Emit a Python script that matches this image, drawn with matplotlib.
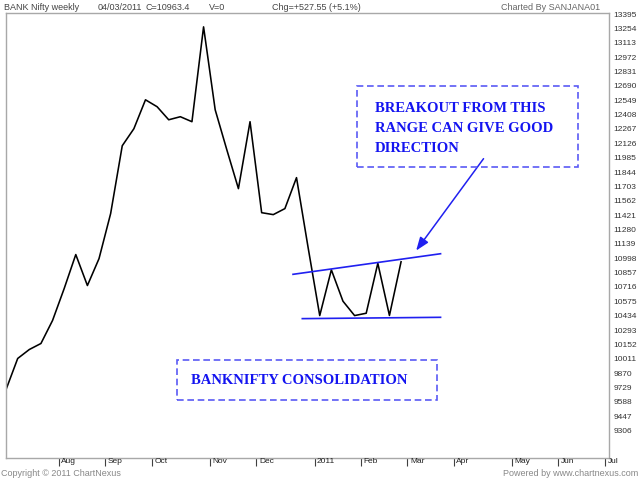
import matplotlib
matplotlib.use("Agg")
import matplotlib.pyplot as plt
import matplotlib.transforms as mtransforms
from matplotlib.patches import Rectangle
import pandas as pd
import numpy as np

# ---------------- data ----------------
start_date = "2010-07-09"
close = [9710, 10014, 10102, 10161, 10387, 10700, 11034, 10730, 10994, 11436,
         12102, 12269, 12553, 12485, 12357, 12387, 12338, 13269, 12455, 12063,
         11681, 12338, 11445, 11426, 11485, 11789, 11102, 10435, 10884, 10576,
         10435, 10458, 10948, 10436, 10963]
month_labels = ["Aug", "Sep", "Oct", "Nov", "Dec", "2011", "Feb", "Mar", "Apr", "May", "Jun", "Jul"]
month_starts = ["2010-08-01", "2010-09-01", "2010-10-01", "2010-11-01", "2010-12-01", "2011-01-01",
                "2011-02-01", "2011-03-01", "2011-04-01", "2011-05-01", "2011-06-01", "2011-07-01"]
ytick_values = [13395, 13254, 13113, 12972, 12831, 12690, 12549, 12408, 12267, 12126,
                11985, 11844, 11703, 11562, 11421, 11280, 11139, 10998, 10857, 10716,
                10575, 10434, 10293, 10152, 10011, 9870, 9729, 9588, 9447, 9306]
# trend lines (week index, value)
upper_x = [24.7, 37.4]
upper_y = [10840, 11042]
lower_x = [25.5, 37.4]
lower_y = [10405, 10418]
# arrow (from, to) in (week index, value)
arrow_from = (41.1, 11975)
arrow_to = (35.3, 11073)

header_items = [("BANK Nifty weekly", 4), ("04/03/2011", 98), ("C=10963.4", 145),
                ("V=0", 209), ("Chg=+527.55 (+5.1%)", 272)]
box1_lines = ["BREAKOUT FROM THIS", "RANGE CAN GIVE GOOD", "DIRECTION"]
box2_text = "BANKNIFTY CONSOLIDATION"

# ---------------- figure ----------------
W, H = 640, 480
fig = plt.figure(figsize=(6.4, 4.8), dpi=100)
fig.patch.set_facecolor("white")

def fx(px):
    return px / W

def fy(py):
    return 1 - py / H

ax = fig.add_axes([fx(5.5), fy(457.7), fx(609) - fx(5.5), fy(13) - fy(457.7)])

dates = pd.date_range(start_date, periods=len(close), freq="W-FRI")
x = np.arange(len(close))
ax.plot(x, close, color="black", lw=1.15)

ax.plot(upper_x, upper_y, color="#2020f0", lw=1.2)
ax.plot(lower_x, lower_y, color="#2020f0", lw=1.2)
ax.annotate("", xy=arrow_to, xytext=arrow_from,
            arrowprops=dict(arrowstyle="-|>,head_length=0.8,head_width=0.3",
                            color="#2020f0", lw=1.1, shrinkA=0, shrinkB=0))

ax.set_xlim(-0.05, 51.9)
ax.set_ylim(9040, 13405)

for s in ax.spines.values():
    s.set_color("#a8a8a8")
    s.set_linewidth(1.0)

# y axis on right
ax.yaxis.tick_right()
ax.set_yticks(ytick_values)
ax.set_yticklabels([str(v) for v in ytick_values], fontsize=6,
                   fontfamily="Liberation Sans", color="#333333")
ax.tick_params(axis="y", length=0, pad=3)

# x ticks: first weekly bar of each month
t0 = dates[0]
tick_pos = []
for ms in month_starts:
    d = pd.Timestamp(ms)
    first_fri = d + pd.Timedelta(days=(4 - d.weekday()) % 7)
    tick_pos.append((first_fri - t0).days / 7.0 + 0.55)
ax.set_xticks(tick_pos)
ax.set_xticklabels([])
ax.tick_params(axis="x", direction="out", length=6, width=0.8, color="#404040")
trans = mtransforms.blended_transform_factory(ax.transData, ax.transAxes)
off = mtransforms.ScaledTranslation(2.5 / 100, 0, fig.dpi_scale_trans)
for p, lab in zip(tick_pos, month_labels):
    ax.text(p, -0.0085, lab, transform=trans + off, ha="left", va="center",
            fontsize=6, fontfamily="Liberation Sans", color="#222222", clip_on=False)

# header / footer
for txt, px in header_items:
    fig.text(fx(px), fy(7), txt, fontsize=6.5, fontfamily="Liberation Sans",
             color="#444444", ha="left", va="center")
fig.text(fx(600), fy(7), "Charted By SANJANA01", fontsize=6.5, fontfamily="Liberation Sans",
         color="#666666", ha="right", va="center")
fig.text(fx(1), fy(474), "Copyright \u00a9 2011 ChartNexus", fontsize=6.5,
         fontfamily="Liberation Sans", color="#888888", ha="left", va="center")
fig.text(fx(638), fy(474), "Powered by www.chartnexus.com", fontsize=6.5,
         fontfamily="Liberation Sans", color="#888888", ha="right", va="center")

# annotation boxes
box_color = "#5a5af5"
text_color = "#1414f0"

def dashed_box(x0, y0, x1, y1):
    r = Rectangle((fx(x0), fy(y1)), fx(x1) - fx(x0), fy(y0) - fy(y1),
                  transform=fig.transFigure, fill=False, edgecolor=box_color,
                  lw=1.2, linestyle=(0, (4, 2.2)))
    fig.add_artist(r)

dashed_box(357, 86, 578, 167)
for i, line in enumerate(box1_lines):
    fig.text(fx(375), fy(109 + 19.5 * i), line, fontsize=10.5, fontweight="bold",
             fontfamily="Liberation Serif", color=text_color, ha="left", va="center")

dashed_box(177, 360, 437, 400)
fig.text(fx(191), fy(380), box2_text, fontsize=10.5, fontweight="bold",
         fontfamily="Liberation Serif", color=text_color, ha="left", va="center")

fig.savefig("out.png", dpi=100)
